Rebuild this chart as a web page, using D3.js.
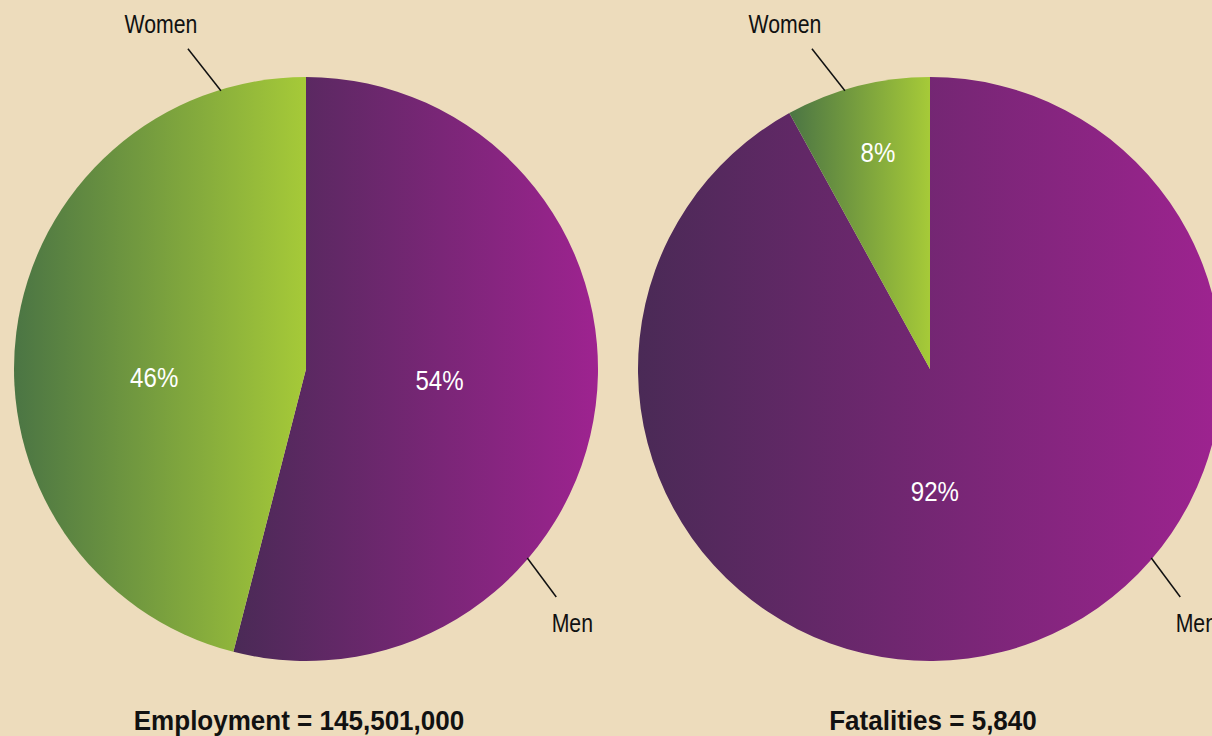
<!DOCTYPE html>
<html>
<head>
<meta charset="utf-8">
<script src="https://cdn.jsdelivr.net/npm/d3@7"></script>
<style>
  body { margin: 0; background: #eddcbc; }
  svg { display: block; }
  text { font-family: "Liberation Sans", Arial, sans-serif; }
</style>
</head>
<body>
<div id="chart"></div>
<script>
var width = 1212, height = 736;

// data
var groups = ["Men", "Women"];
var employmentShare = [54, 46];
var fatalityShare = [92, 8];
var titles = ["Employment = 145,501,000", "Fatalities = 5,840"];

// layout for each pie (label angles in degrees, clockwise from 12 o'clock)
var pies = [
  { values: employmentShare, title: titles[0], cx: 306, cy: 369, tx: -7,
    pct: [{a: 94.7, r: 134}, {a: 267, r: 152}] },
  { values: fatalityShare, title: titles[1], cx: 930, cy: 369, tx: 3,
    pct: [{a: 177.7, r: 122}, {a: 346.5, r: 223}] }
];
var radius = 292;

// leader lines: point on the rim, line vector, text offset from line end
var leaders = {
  "Women": { a: 343, dx: -33, dy: -42, tx: -27, ty: -16 },
  "Men":   { a: 130.5, dx: 29, dy: 39, tx: 16, ty: 35 }
};

var svg = d3.select("#chart").append("svg")
    .attr("width", width)
    .attr("height", height);

var defs = svg.append("defs");
var stops = {
  "Men":   ["#4a2a56", "#9e2390"],
  "Women": ["#4b7544", "#a6ca38"]
};
groups.forEach(function(g) {
  var grad = defs.append("linearGradient")
      .attr("id", "grad-" + g)
      .attr("x1", 0).attr("x2", 1).attr("y1", 0).attr("y2", 0);
  grad.append("stop").attr("offset", "0%").attr("stop-color", stops[g][0]);
  grad.append("stop").attr("offset", "100%").attr("stop-color", stops[g][1]);
});

var pie = d3.pie().sort(null).value(function(d) { return d; });
var arc = d3.arc().innerRadius(0).outerRadius(radius);
var rad = Math.PI / 180;

// narrow type: squeeze Liberation Sans horizontally
function narrowText(sel, x, y, sx) {
  return sel.append("text")
    .attr("transform", "translate(" + x + "," + y + ") scale(" + sx + ",1)")
    .attr("text-anchor", "middle");
}

pies.forEach(function(p) {
  var g = svg.append("g")
      .attr("transform", "translate(" + p.cx + "," + p.cy + ")");

  var slices = pie(p.values);

  g.selectAll("path")
    .data(slices)
    .enter()
    .append("path")
    .attr("d", arc)
    .style("fill", function(d, i) { return "url(#grad-" + groups[i] + ")"; });

  // percent labels
  slices.forEach(function(d, i) {
    var x = p.pct[i].r * Math.sin(p.pct[i].a * rad);
    var y = -p.pct[i].r * Math.cos(p.pct[i].a * rad);
    narrowText(g, x, y, 0.86)
      .attr("dy", ".36em")
      .style("font-size", "28px")
      .style("fill", "#ffffff")
      .text(d.data + "%");
  });

  // leader lines + group names
  groups.forEach(function(name) {
    var L = leaders[name];
    var x0 = (radius - 1) * Math.sin(L.a * rad), y0 = -(radius - 1) * Math.cos(L.a * rad);
    var x1 = x0 + L.dx, y1 = y0 + L.dy;
    g.append("line")
      .attr("x1", x0).attr("y1", y0)
      .attr("x2", x1).attr("y2", y1)
      .style("stroke", "#111")
      .style("stroke-width", 1.5);
    narrowText(g, x1 + L.tx, y1 + L.ty, 0.85)
      .style("font-size", "25px")
      .style("fill", "#111")
      .text(name);
  });

  // title
  narrowText(g, p.tx, 361, 0.93)
    .style("font-size", "28px")
    .style("font-weight", "bold")
    .style("fill", "#111")
    .text(p.title);
});
</script>
</body>
</html>
